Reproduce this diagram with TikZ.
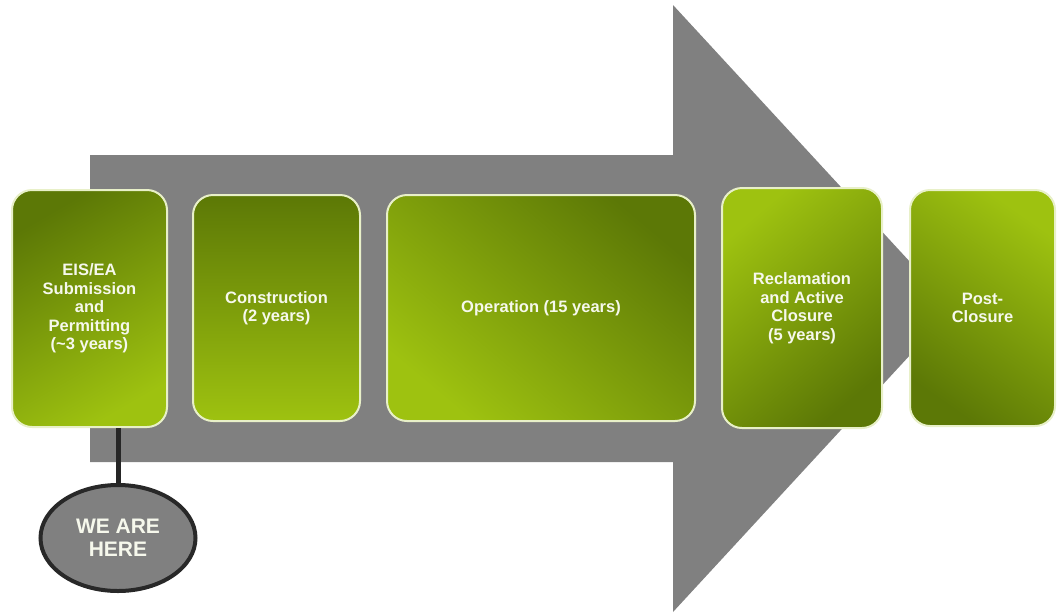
\documentclass[tikz,border=0pt]{standalone}
\usepackage{fontspec}
\setmainfont{Liberation Sans}
\usetikzlibrary{shapes.geometric}
\definecolor{arrowgray}{RGB}{128,128,128}
\definecolor{gdark}{RGB}{92,120,6}
\definecolor{glight}{RGB}{158,194,16}
\definecolor{gborder}{RGB}{232,240,200}
\definecolor{ringdark}{RGB}{40,40,40}
\definecolor{txt}{RGB}{246,248,236}
\tikzset{
  stage/.style={draw=gborder, line width=2pt, rounded corners=20pt,
    text=txt, font=\bfseries\fontsize{16.5}{18.5}\selectfont, align=center,
    inner sep=4pt},
  darktop/.style={stage, top color=gdark, bottom color=glight},
  lighttop/.style={stage, top color=glight, bottom color=gdark},
  here/.style={ellipse, draw=ringdark, line width=4pt, fill=arrowgray,
    text=txt, font=\bfseries\fontsize{21}{23}\selectfont, align=center},
  pin/.style={draw=black!85, line width=5pt}
}
\begin{document}
\begin{tikzpicture}[x=1pt,y=-1pt]
\useasboundingbox (0,0) rectangle (1060,614);
% big arrow
\fill[arrowgray] (90,155) -- (673,155) -- (673,5) -- (953,308.5)
  -- (673,612) -- (673,462) -- (90,462) -- cycle;
% stages
\node[darktop, shading angle=30, minimum width=155pt, minimum height=237pt]
  (eis) at (89.5,308.5) {EIS/EA\\Submission\\and\\Permitting\\(\textasciitilde3 years)};
\node[darktop, minimum width=167pt, minimum height=226pt]
  (con) at (276.5,308) {Construction\\(2 years)};
\node[darktop, shading angle=-40, minimum width=308pt, minimum height=226pt]
  (op) at (541,308) {Operation (15 years)};
\node[lighttop, shading angle=40, minimum width=160pt, minimum height=240pt]
  (rec) at (802,308) {Reclamation\\and Active\\Closure\\(5 years)};
\node[lighttop, shading angle=-35, minimum width=145pt, minimum height=236pt]
  (post) at (982.5,308) {Post-\\Closure};
% we are here
\node[here, minimum width=155pt, minimum height=106pt] (h) at (118,538) {WE ARE\\HERE};
\draw[pin] (h.north |- eis.south) -- (h.north);
\end{tikzpicture}
\end{document}
